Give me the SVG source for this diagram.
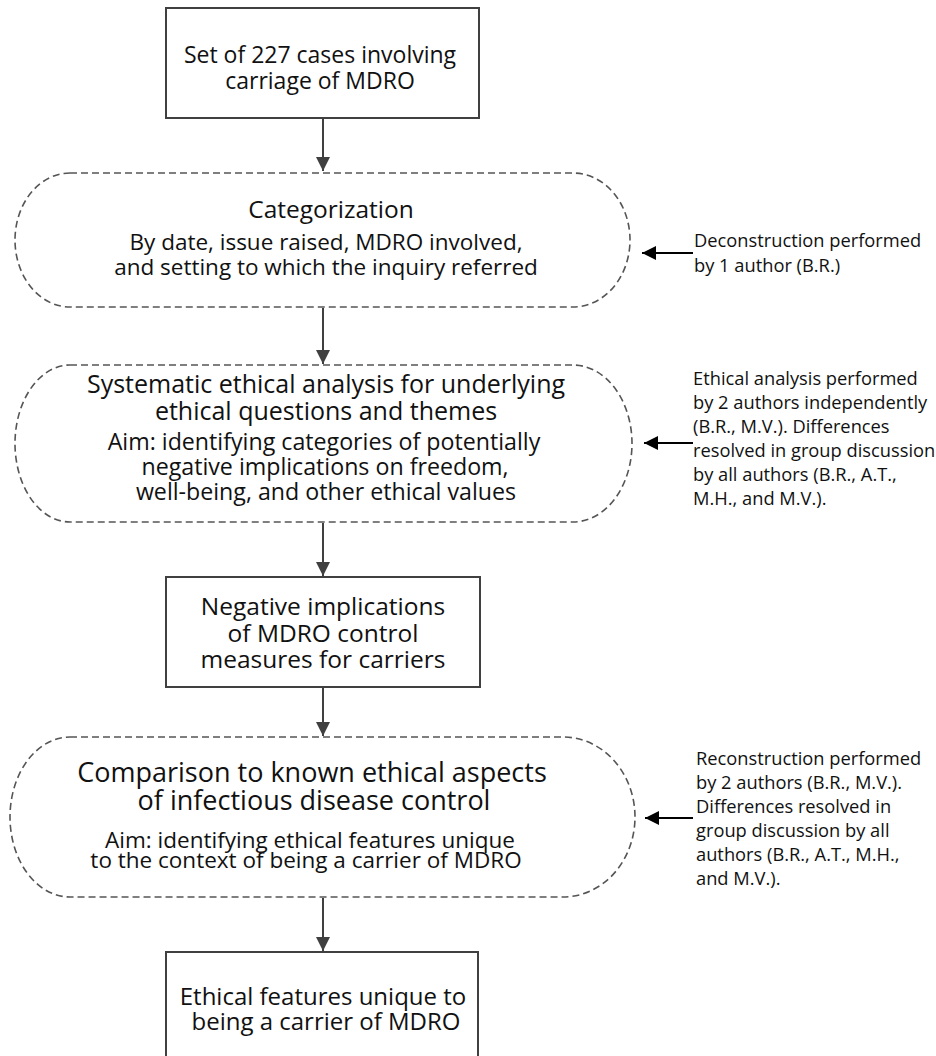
<svg xmlns="http://www.w3.org/2000/svg" width="936" height="1056" viewBox="0 0 936 1056">
<style>
.box{fill:#fff;stroke:#404040;stroke-width:2}
.stad{fill:#fff;stroke:#555;stroke-width:1.6;stroke-dasharray:7 4}
text{font-family:"Open Sans","Noto Sans","DejaVu Sans",sans-serif;fill:#111}
.c{text-anchor:middle}
.t1{font-size:23px}
.t2{font-size:22.5px}
.t3{font-size:25px}
.side{font-size:18.3px}
.vline{stroke:#404040;stroke-width:2;fill:none}
.hline{stroke:#000;stroke-width:2;fill:none}
</style>
<defs>
<marker id="ah" viewBox="0 0 14 14" markerWidth="14" markerHeight="14" refX="14" refY="7" orient="auto" markerUnits="userSpaceOnUse"><path d="M0,0 L14,7 L0,14 z" fill="#404040"/></marker>
<marker id="ahk" viewBox="0 0 14 14" markerWidth="14" markerHeight="14" refX="14" refY="7" orient="auto" markerUnits="userSpaceOnUse"><path d="M0,0 L14,7 L0,14 z" fill="#000"/></marker>
</defs>
<g id="connectors">
<line class="vline" x1="323" y1="119" x2="323" y2="171" marker-end="url(#ah)"/>
<line class="vline" x1="323" y1="308" x2="323" y2="364" marker-end="url(#ah)"/>
<line class="vline" x1="323" y1="523" x2="323" y2="576" marker-end="url(#ah)"/>
<line class="vline" x1="323" y1="688" x2="323" y2="736" marker-end="url(#ah)"/>
<line class="vline" x1="323" y1="898" x2="323" y2="951" marker-end="url(#ah)"/>
<line class="hline" x1="693" y1="253" x2="642" y2="253" marker-end="url(#ahk)"/>
<line class="hline" x1="693" y1="443" x2="644" y2="443" marker-end="url(#ahk)"/>
<line class="hline" x1="693" y1="818" x2="645" y2="818" marker-end="url(#ahk)"/>
</g>
<g id="n1">
<rect class="box" x="166" y="8" width="313" height="110"/>
<text class="c t1" x="320" y="63">Set of 227 cases involving</text>
<text class="c t1" x="320" y="89">carriage of MDRO</text>
</g>
<g id="n2">
<path class="stad" d="M70,173 H573 A57,67 0 0 1 573,307 H70 A55,67 0 0 1 70,173 Z"/>
<text class="c" x="331" y="218" style="font-size:24.5px">Categorization</text>
<text class="c t2" x="326" y="250">By date, issue raised, MDRO involved,</text>
<text class="c t2" x="326" y="275">and setting to which the inquiry referred</text>
</g>
<g id="n3">
<path class="stad" d="M70,365 H573 A59,78.5 0 0 1 573,522 H70 A55,78.5 0 0 1 70,365 Z"/>
<text class="c t3" x="326" y="393">Systematic ethical analysis for underlying</text>
<text class="c t3" x="326" y="420">ethical questions and themes</text>
<text class="c" x="324" y="450" style="font-size:23.2px">Aim: identifying categories of potentially</text>
<text class="c" x="325" y="475" style="font-size:23.2px">negative implications on freedom,</text>
<text class="c" x="326" y="500" style="font-size:23.2px">well-being, and other ethical values</text>
</g>
<g id="n4">
<rect class="box" x="166" y="577" width="314" height="110"/>
<text class="c" x="323" y="615" style="font-size:24.5px">Negative implications</text>
<text class="c" x="323" y="642" style="font-size:24.5px">of MDRO control</text>
<text class="c" x="323" y="668" style="font-size:24.5px">measures for carriers</text>
</g>
<g id="n5">
<path class="stad" d="M70,737 H563 A72,80 0 0 1 563,897 H70 A60,80 0 0 1 70,737 Z"/>
<text class="c" x="312" y="782" style="font-size:27px">Comparison to known ethical aspects</text>
<text class="c" x="314" y="810" style="font-size:27px">of infectious disease control</text>
<text class="c" x="310" y="848" style="font-size:22.5px">Aim: identifying ethical features unique</text>
<text class="c" x="306" y="868" style="font-size:22.5px">to the context of being a carrier of MDRO</text>
</g>
<g id="n6">
<rect class="box" x="166" y="952" width="312" height="120"/>
<text class="c" x="323" y="1005" style="font-size:24px">Ethical features unique to</text>
<text class="c" x="326" y="1030" style="font-size:24px">being a carrier of MDRO</text>
</g>
<g id="note1">
<text class="side" x="694" y="247">Deconstruction performed</text>
<text class="side" x="694" y="272">by 1 author (B.R.)</text>
</g>
<g id="note2">
<text class="side" x="693" y="385">Ethical analysis performed</text>
<text class="side" x="693" y="409">by 2 authors independently</text>
<text class="side" x="693" y="433">(B.R., M.V.). Differences</text>
<text class="side" x="693" y="457">resolved in group discussion</text>
<text class="side" x="693" y="481">by all authors (B.R., A.T.,</text>
<text class="side" x="693" y="505">M.H., and M.V.).</text>
</g>
<g id="note3">
<text class="side" x="696" y="765">Reconstruction performed</text>
<text class="side" x="696" y="789">by 2 authors (B.R., M.V.).</text>
<text class="side" x="696" y="813">Differences resolved in</text>
<text class="side" x="696" y="837">group discussion by all</text>
<text class="side" x="696" y="861">authors (B.R., A.T., M.H.,</text>
<text class="side" x="696" y="885">and M.V.).</text>
</g>
</svg>
